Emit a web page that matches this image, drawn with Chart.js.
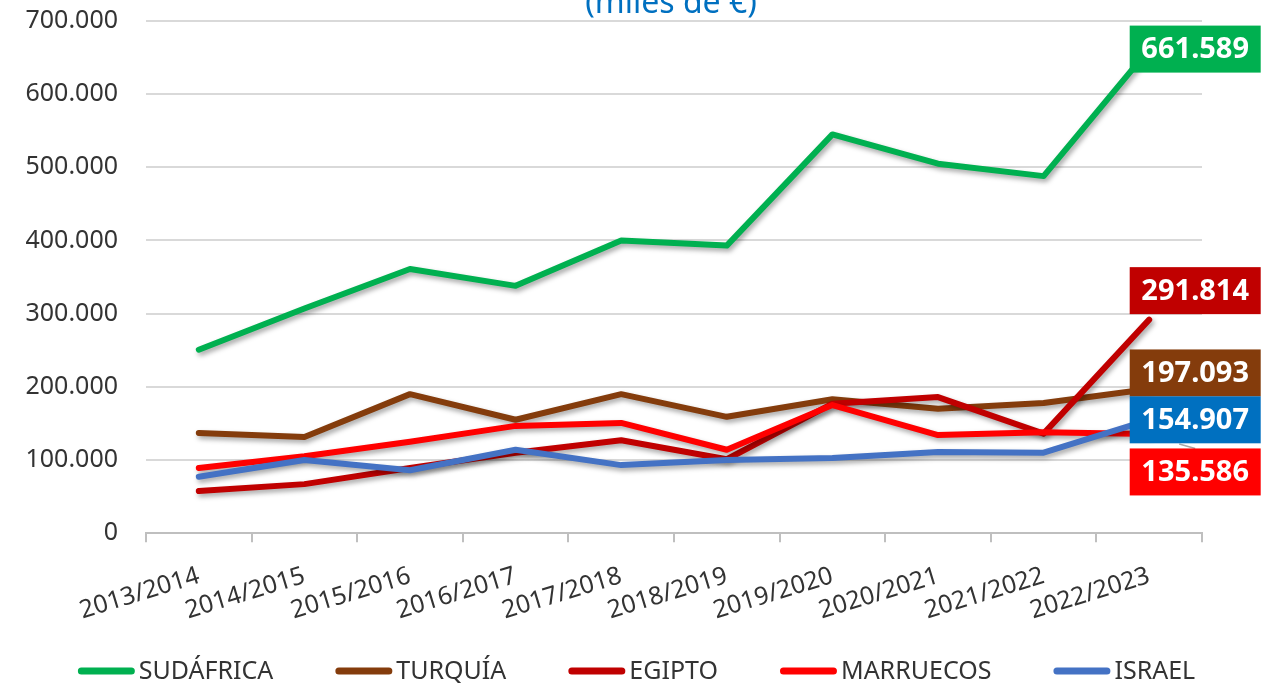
<!DOCTYPE html>
<html lang="es">
<head>
<meta charset="utf-8">
<title>Exportaciones por destino (miles de €)</title>
<script src="https://cdn.jsdelivr.net/npm/chart.js@4.4.1/dist/chart.umd.min.js"></script>
<style>
  html, body { margin: 0; padding: 0; background: #fff; }
  #wrap { position: relative; width: 1273px; height: 685px; }
</style>
</head>
<body>
<div id="wrap"><canvas id="chart"></canvas></div>
<script>
// Values in thousands of euros
const seasons = ['2013/2014', '2014/2015', '2015/2016', '2016/2017', '2017/2018',
                 '2018/2019', '2019/2020', '2020/2021', '2021/2022', '2022/2023'];

const sudafrica = [250700, 307000, 361000, 338000, 400000, 393000, 545000, 505000, 488000, 661589];
const turquia   = [137000, 131500, 190000, 155000, 190000, 159000, 183000, 170000, 178000, 197093];
const egipto    = [57500, 67000, 89000, 110000, 127000, 101000, 177000, 186000, 136000, 291814];
const marruecos = [89000, 105000, 125000, 146600, 150700, 114000, 175000, 134000, 138000, 135586];
const israel    = [77000, 100000, 86000, 114000, 93000, 100000, 102700, 111000, 110000, 154907];

const yTicks = [0, 100000, 200000, 300000, 400000, 500000, 600000, 700000];

// end-of-line label boxes: colour and vertical nudge so they don't overlap
const boxColors  = ['#00B050', '#843C0C', '#C00000', '#FF0000', '#0070C0'];
const boxShift   = [0, -16, -29, 38, 0];

const FONT = '"Noto Sans", "Open Sans", sans-serif';

const fmt = v => v.toLocaleString('de-DE');

function series(label, data, color, order) {
  return {
    label, data, order,
    borderColor: color,
    backgroundColor: color,
    borderWidth: 6,
    borderCapStyle: 'round',
    borderJoinStyle: 'round',
    pointRadius: 0,
    tension: 0,
    fill: false
  };
}

// soft drop shadow under the lines
const lineShadow = {
  id: 'lineShadow',
  beforeDatasetsDraw(chart) {
    const ctx = chart.ctx;
    ctx.save();
    ctx.shadowColor = 'rgba(0,0,0,0.35)';
    ctx.shadowBlur = 5;
    ctx.shadowOffsetX = 2;
    ctx.shadowOffsetY = 3;
  },
  afterDatasetsDraw(chart) {
    chart.ctx.restore();
  }
};

// value boxes at the last point of each series
const endLabels = {
  id: 'endLabels',
  afterDatasetsDraw(chart) {
    const ctx = chart.ctx;
    ctx.save();
    ctx.font = 'bold 29px ' + FONT;
    ctx.textAlign = 'center';
    ctx.textBaseline = 'middle';
    chart.data.datasets.forEach((ds, i) => {
      const meta = chart.getDatasetMeta(i);
      const pt = meta.data[meta.data.length - 1];
      const cx = pt.x + 46;
      const cy = pt.y + boxShift[i];
      const w = 131, h = 47;
      if (boxShift[i] > 20) {
        // small leader line like the original
        ctx.strokeStyle = '#a6a6a6';
        ctx.lineWidth = 1.5;
        ctx.beginPath();
        ctx.moveTo(pt.x + 30, pt.y + 10);
        ctx.lineTo(cx, cy - h / 2);
        ctx.stroke();
      }
      ctx.fillStyle = boxColors[i];
      ctx.fillRect(cx - w / 2, cy - h / 2, w, h);
      ctx.fillStyle = '#fff';
      ctx.fillText(fmt(ds.data[ds.data.length - 1]), cx, cy + 1);
    });
    ctx.restore();
  }
};

// title fragment and legend drawn by hand
const decor = {
  id: 'decor',
  afterDraw(chart) {
    const ctx = chart.ctx;
    const area = chart.chartArea;
    ctx.save();
    ctx.font = '32px ' + FONT;
    ctx.fillStyle = '#0070C0';
    ctx.textAlign = 'center';
    ctx.textBaseline = 'alphabetic';
    ctx.fillText('(miles de €)', (area.left + area.right) / 2 - 3, 13);

    ctx.font = '25px ' + FONT;
    ctx.textBaseline = 'middle';
    ctx.textAlign = 'left';
    const markW = 57, gapText = 4, gapItem = 62;
    const items = chart.data.datasets.map(ds => ({
      text: ds.label, color: ds.borderColor, w: ctx.measureText(ds.label).width
    }));
    const total = items.reduce((s, it) => s + markW + gapText + it.w, 0) + gapItem * (items.length - 1);
    let x = (chart.width - total) / 2;
    const y = chart.height - 14;
    items.forEach(it => {
      ctx.strokeStyle = it.color;
      ctx.lineWidth = 7;
      ctx.lineCap = 'round';
      ctx.beginPath();
      ctx.moveTo(x + 3.5, y);
      ctx.lineTo(x + markW - 3.5, y);
      ctx.stroke();
      ctx.fillStyle = '#333';
      ctx.fillText(it.text, x + markW + gapText, y + 1);
      x += markW + gapText + it.w + gapItem;
    });
    ctx.restore();
  }
};

new Chart(document.getElementById('chart'), {
  type: 'line',
  data: {
    labels: seasons,
    datasets: [
      series('SUDÁFRICA', sudafrica, '#00B050', 4),
      series('TURQUÍA', turquia, '#843C0C', 3),
      series('EGIPTO', egipto, '#C00000', 2),
      series('MARRUECOS', marruecos, '#FF0000', 1),
      series('ISRAEL', israel, '#4472C4', 0)
    ]
  },
  options: {
    responsive: true,
    maintainAspectRatio: false,
    animation: false,
    layout: { padding: { left: 26, right: 71, top: 21, bottom: 40 } },
    plugins: {
      legend: { display: false },
      title: { display: false },
      tooltip: { enabled: false }
    },
    scales: {
      x: {
        offset: true,
        afterFit: axis => { axis.paddingLeft = 0; axis.paddingRight = 0; },
        grid: {
          offset: true,
          drawOnChartArea: false,
          drawTicks: true,
          tickLength: 9,
          color: '#bfbfbf',
          lineWidth: 2
        },
        border: { color: '#bfbfbf', width: 2 },
        ticks: {
          autoSkip: false,
          minRotation: 17,
          maxRotation: 17,
          padding: 19,
          color: '#333',
          font: { family: FONT, size: 25 }
        }
      },
      y: {
        min: 0,
        max: 700000,
        afterBuildTicks: axis => { axis.ticks = yTicks.map(v => ({ value: v })); },
        afterFit: axis => { axis.paddingTop = 0; axis.paddingBottom = 0; axis.width = 120; },
        grid: { color: '#d9d9d9', lineWidth: 2, drawTicks: false },
        border: { display: false },
        ticks: {
          padding: 28,
          color: '#333',
          font: { family: FONT, size: 25 },
          callback: v => fmt(v)
        }
      }
    }
  },
  plugins: [lineShadow, endLabels, decor]
});
</script>
</body>
</html>
